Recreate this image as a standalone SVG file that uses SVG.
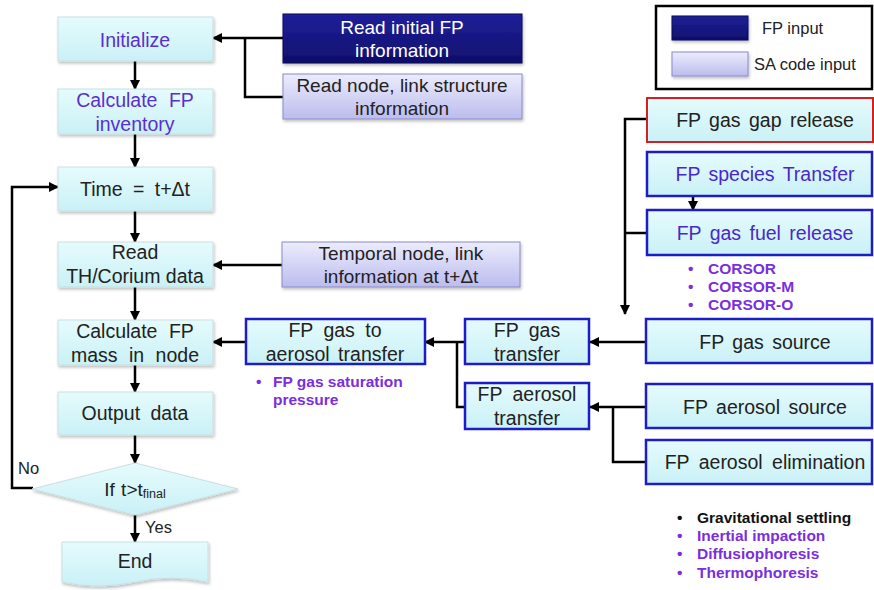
<svg xmlns="http://www.w3.org/2000/svg" width="874" height="590" viewBox="0 0 874 590">
  <defs>
    <linearGradient id="gCyan" x1="0" y1="0" x2="0" y2="1">
      <stop offset="0" stop-color="#e6fbfd"/>
      <stop offset="1" stop-color="#c9f1f6"/>
    </linearGradient>
    <linearGradient id="gNavy" x1="0" y1="0" x2="0" y2="1">
      <stop offset="0" stop-color="#20209a"/>
      <stop offset="1" stop-color="#0f0f6c"/>
    </linearGradient>
    <linearGradient id="gLav" x1="0" y1="0" x2="0" y2="1">
      <stop offset="0" stop-color="#ececfd"/>
      <stop offset="1" stop-color="#bcbcee"/>
    </linearGradient>
    <filter id="shadow" x="-10%" y="-10%" width="120%" height="130%">
      <feDropShadow dx="1" dy="2" stdDeviation="1.5" flood-color="#000" flood-opacity="0.25"/>
    </filter>
    <marker id="arr" viewBox="0 0 10 10" refX="9" refY="5" markerWidth="10" markerHeight="10" markerUnits="userSpaceOnUse" orient="auto">
      <path d="M0,0 L10,5 L0,10 z" fill="#000"/>
    </marker>
  </defs>
  <style>
    text { font-family: "Liberation Sans", Arial, sans-serif; dominant-baseline: central; text-anchor: middle; }
    .step { fill: url(#gCyan); stroke: #c9dfe3; stroke-width: 1; filter: url(#shadow); }
    .navy { fill: url(#gNavy); stroke: #0c0c55; stroke-width: 1; filter: url(#shadow); }
    .lav { fill: url(#gLav); stroke: #8a8ac8; stroke-width: 1; filter: url(#shadow); }
    .blue { fill: url(#gCyan); stroke: #1c1cc8; stroke-width: 2.5; }
    .red { fill: url(#gCyan); stroke: #d42020; stroke-width: 2; }
    .t { font-size: 19.5px; fill: #222; word-spacing: 5px; }
    .tp { font-size: 19.5px; fill: #5a2fd0; word-spacing: 6px; }
    .ti { font-size: 19px; fill: #222; }
    .tw { font-size: 19px; fill: #fff; }
    .big { font-size: 19.5px; fill: #222; word-spacing: 3px; }
    .bigp { font-size: 19.5px; fill: #4a28c8; word-spacing: 3px; }
    .bul { font-size: 15.5px; font-weight: bold; fill: #7a2ee0; text-anchor: start; }
    .bulk { font-size: 15.5px; font-weight: bold; fill: #111; text-anchor: start; }
    .lbl { font-size: 16.5px; fill: #222; text-anchor: start; }
    .conn { fill: none; stroke: #000; stroke-width: 2.5; }
  </style>

  <!-- connectors -->
  <g id="connectors" class="conn">
    <line x1="135" y1="61" x2="135" y2="89" marker-end="url(#arr)"/>
    <line x1="135" y1="134" x2="135" y2="167" marker-end="url(#arr)"/>
    <line x1="135" y1="211" x2="135" y2="242" marker-end="url(#arr)"/>
    <line x1="135" y1="287" x2="135" y2="320" marker-end="url(#arr)"/>
    <line x1="135" y1="365" x2="135" y2="392" marker-end="url(#arr)"/>
    <line x1="135" y1="435" x2="135" y2="463" marker-end="url(#arr)"/>
    <line x1="135" y1="515" x2="135" y2="542" marker-end="url(#arr)"/>
    <!-- loop back -->
    <polyline points="33,488 12,488 12,187 58,187" marker-end="url(#arr)"/>
    <!-- initial inputs -->
    <line x1="283" y1="38" x2="213" y2="38" marker-end="url(#arr)"/>
    <polyline points="283,97 245,97 245,38"/>
    <line x1="282" y1="265" x2="213" y2="265" marker-end="url(#arr)"/>
    <!-- transfer chain -->
    <line x1="246" y1="342" x2="213" y2="342" marker-end="url(#arr)"/>
    <line x1="465" y1="342" x2="425" y2="342" marker-end="url(#arr)"/>
    <polyline points="465,407 457,407 457,342"/>
    <line x1="646" y1="342" x2="590" y2="342" marker-end="url(#arr)"/>
    <line x1="646" y1="407" x2="590" y2="407" marker-end="url(#arr)"/>
    <polyline points="646,462 613,462 613,407"/>
    <!-- release sources -->
    <polyline points="647,119 625,119 625,314" marker-end="url(#arr)"/>
    <line x1="647" y1="233" x2="625" y2="233"/>
    <line x1="693" y1="196" x2="693" y2="210" marker-end="url(#arr)"/>
  </g>

  <!-- main loop -->
  <g id="initialize">
    <rect class="step" x="58" y="17" width="155" height="44"/>
    <text class="tp" x="135" y="40">Initialize</text>
  </g>
  <g id="inventory">
    <rect class="step" x="58" y="89" width="155" height="45"/>
    <text class="tp" x="135" y="100">Calculate FP</text>
    <text class="tp" x="135" y="124">inventory</text>
  </g>
  <g id="time">
    <rect class="step" x="58" y="167" width="155" height="44"/>
    <text class="t" x="135" y="189">Time = t+Δt</text>
  </g>
  <g id="read-th">
    <rect class="step" x="58" y="242" width="155" height="45"/>
    <text class="t" x="135" y="252">Read</text>
    <text class="t" x="135" y="276" style="word-spacing:0">TH/Corium data</text>
  </g>
  <g id="mass">
    <rect class="step" x="58" y="320" width="155" height="45"/>
    <text class="t" x="135" y="331" style="word-spacing:6px">Calculate FP</text>
    <text class="t" x="135" y="355" style="word-spacing:6px">mass in node</text>
  </g>
  <g id="output">
    <rect class="step" x="58" y="392" width="155" height="43"/>
    <text class="t" x="135" y="413">Output data</text>
  </g>
  <g id="decision">
    <polygon class="step" points="32,489 135,463 238,489 135,515"/>
    <text class="t" x="135" y="489" style="font-size:19px;word-spacing:1px">If t&gt;t<tspan font-size="12.5" dy="5">final</tspan></text>
    <text class="lbl" x="18" y="468">No</text>
    <text class="lbl" x="145" y="527">Yes</text>
  </g>
  <g id="end">
    <path class="step" d="M62,542 H208 V582 Q171,574 135,582 Q98,590 62,582 Z"/>
    <text class="t" x="135" y="561">End</text>
  </g>

  <!-- inputs -->
  <g id="read-initial-fp">
    <rect class="navy" x="283" y="14" width="239" height="49"/>
    <text class="tw" x="402" y="27">Read initial FP</text>
    <text class="tw" x="402" y="50">information</text>
  </g>
  <g id="read-node-link">
    <rect class="lav" x="283" y="74" width="239" height="45"/>
    <text class="ti" x="402" y="85">Read node, link structure</text>
    <text class="ti" x="402" y="108">information</text>
  </g>
  <g id="temporal-node">
    <rect class="lav" x="282" y="242" width="238" height="45"/>
    <text class="ti" x="401" y="253">Temporal node, link</text>
    <text class="ti" x="401" y="276">information at t+Δt</text>
  </g>

  <!-- legend -->
  <g id="legend">
    <rect x="656" y="6" width="216" height="83" fill="#fff" stroke="#000" stroke-width="2.5"/>
    <rect class="navy" x="672" y="16" width="76" height="24"/>
    <rect class="lav" x="672" y="52" width="76" height="24"/>
    <text class="lbl" x="762" y="28">FP input</text>
    <text class="lbl" x="754" y="64">SA code input</text>
  </g>

  <!-- transfer boxes -->
  <g id="gas-to-aerosol">
    <rect class="blue" x="246" y="319" width="179" height="45"/>
    <text class="t" x="335" y="330">FP gas to</text>
    <text class="t" x="335" y="354" style="word-spacing:3px">aerosol transfer</text>
    <text class="bul" x="256" y="381">•</text>
    <text class="bul" x="273" y="381">FP gas saturation</text>
    <text class="bul" x="273" y="399">pressure</text>
  </g>
  <g id="gas-transfer">
    <rect class="blue" x="465" y="319" width="124" height="45"/>
    <text class="t" x="527" y="330">FP gas</text>
    <text class="t" x="527" y="354">transfer</text>
  </g>
  <g id="aerosol-transfer">
    <rect class="blue" x="465" y="383" width="124" height="46"/>
    <text class="t" x="527" y="394">FP aerosol</text>
    <text class="t" x="527" y="418">transfer</text>
  </g>

  <!-- sources -->
  <g id="gap-release">
    <rect class="red" x="647" y="98" width="226" height="44"/>
    <text class="big" x="765" y="120">FP gas gap release</text>
  </g>
  <g id="species-transfer">
    <rect class="blue" x="647" y="152" width="225" height="44"/>
    <text class="bigp" x="765" y="174">FP species Transfer</text>
  </g>
  <g id="fuel-release">
    <rect class="blue" x="647" y="210" width="225" height="45"/>
    <text class="bigp" x="765" y="233">FP gas fuel release</text>
    <text class="bul" x="688" y="268">•</text>
    <text class="bul" x="708" y="268">CORSOR</text>
    <text class="bul" x="688" y="286">•</text>
    <text class="bul" x="708" y="286">CORSOR-M</text>
    <text class="bul" x="688" y="304">•</text>
    <text class="bul" x="708" y="304">CORSOR-O</text>
  </g>
  <g id="gas-source">
    <rect class="blue" x="646" y="319" width="226" height="44"/>
    <text class="big" x="765" y="342">FP gas source</text>
  </g>
  <g id="aerosol-source">
    <rect class="blue" x="646" y="384" width="226" height="44"/>
    <text class="big" x="765" y="407">FP aerosol source</text>
  </g>
  <g id="aerosol-elimination">
    <rect class="blue" x="646" y="440" width="226" height="44"/>
    <text class="big" x="765" y="462" style="word-spacing:4px">FP aerosol elimination</text>
  </g>
  <g id="deposition-notes">
    <text class="bulk" x="677" y="517">•</text>
    <text class="bulk" x="697" y="517">Gravitational settling</text>
    <text class="bul" x="677" y="535">•</text>
    <text class="bul" x="697" y="535">Inertial impaction</text>
    <text class="bul" x="677" y="553">•</text>
    <text class="bul" x="697" y="553">Diffusiophoresis</text>
    <text class="bul" x="677" y="572">•</text>
    <text class="bul" x="697" y="572">Thermophoresis</text>
  </g>
</svg>
